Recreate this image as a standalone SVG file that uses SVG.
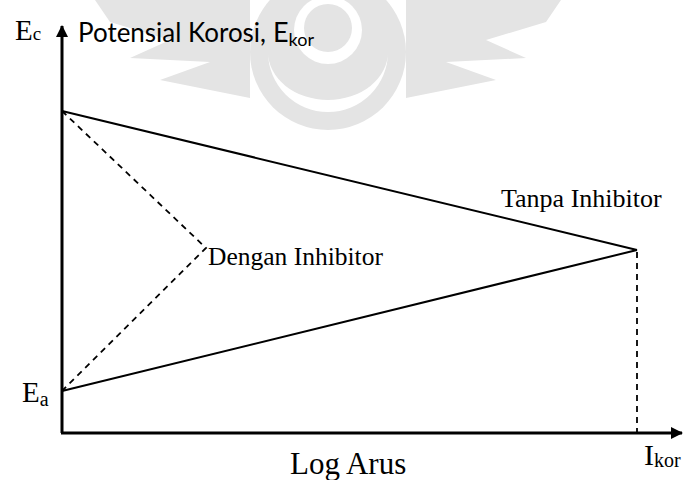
<svg xmlns="http://www.w3.org/2000/svg" width="683" height="480" viewBox="0 0 683 480">
<style>
.wm{fill:#e4e4e4;stroke:none}
.axis{stroke:#000;stroke-width:3;fill:none}
.line{stroke:#000;stroke-width:2;fill:none}
.dash{stroke:#000;stroke-width:1.8;fill:none;stroke-dasharray:6 5}
.tr{font-family:"Liberation Serif","Times New Roman",serif;fill:#000}
.cal{font-family:Lato,"Open Sans",sans-serif;fill:#000}
</style>
<defs>
<marker id="ah" viewBox="0 0 12 12" refX="11" refY="6" markerWidth="12" markerHeight="12" markerUnits="userSpaceOnUse" orient="auto">
<path d="M0,0 L12,6 L0,12 Z" fill="#000"/>
</marker>
</defs>
<rect width="683" height="480" fill="#fff"/>
<g id="watermark">
<path class="wm" d="M95,0 L250,0 L250,98 L160,80 L210,62 L130,58 L170,40 L110,22 Z"/>
<path class="wm" d="M561,0 L406,0 L406,98 L496,80 L446,62 L526,58 L486,40 L546,22 Z"/>
<circle class="wm" cx="328" cy="52" r="78"/>
<path d="M268,52 A60,60 0 0 0 388,52 A60,48 0 0 1 268,52 Z" fill="#fff"/>
<circle cx="328" cy="30" r="34" fill="#fff"/>
<circle class="wm" cx="328" cy="28" r="24"/>
</g>
<g id="connectors">
<line class="axis" x1="62" y1="433" x2="62" y2="26" marker-end="url(#ah)"/>
<line class="axis" x1="61" y1="433" x2="682" y2="433" marker-end="url(#ah)"/>
<line class="line" x1="62" y1="111" x2="637" y2="250"/>
<line class="line" x1="62" y1="391" x2="637" y2="250"/>
<line class="dash" x1="637" y1="252" x2="637" y2="432"/>
<polyline class="dash" points="62,111 206,248 62,391"/>
</g>
<g id="label-ec">
<text class="tr" x="15" y="40" font-size="29">E<tspan font-size="19">c</tspan></text>
</g>
<g id="label-potensial">
<text class="cal" x="78" y="42" font-size="27" textLength="188" lengthAdjust="spacingAndGlyphs">Potensial Korosi,</text>
<text class="cal" x="273" y="42" font-size="27">E<tspan font-size="18" dy="4">kor</tspan></text>
</g>
<g id="label-tanpa">
<text class="tr" x="501" y="207" font-size="26">Tanpa Inhibitor</text>
</g>
<g id="label-dengan">
<text class="tr" x="208" y="265" font-size="25.5">Dengan Inhibitor</text>
</g>
<g id="label-ea">
<text class="tr" x="22" y="402" font-size="29">E<tspan font-size="20" dy="4">a</tspan></text>
</g>
<g id="label-log">
<text class="tr" x="290" y="474" font-size="31">Log Arus</text>
</g>
<g id="label-ikor">
<text class="tr" x="644" y="465" font-size="30">I<tspan font-size="20" dy="2">kor</tspan></text>
</g>
</svg>
